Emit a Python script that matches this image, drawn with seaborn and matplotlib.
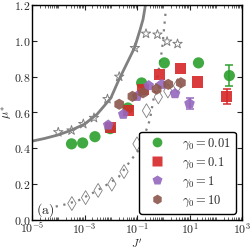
import numpy as np
import pandas as pd
import matplotlib
matplotlib.use("Agg")
import matplotlib.pyplot as plt
import seaborn as sns
from matplotlib.lines import Line2D
from matplotlib.ticker import LogLocator, FixedLocator, NullFormatter

sns.set_style("ticks")
plt.rcParams['font.family'] = ['DejaVu Serif']
plt.rcParams['mathtext.fontset'] = 'cm'

# ---- data ----
g001_x = [3.2e-4, 8.5e-4, 2.5e-3, 9.5e-3, 0.045, 0.15, 1.1, 22, 330]
g001_y = [0.425, 0.43, 0.465, 0.51, 0.625, 0.765, 0.877, 0.877, 0.806]
g01_x = [0.0100, 0.047, 0.17, 0.71, 4.7, 20, 260]
g01_y = [0.515, 0.61, 0.73, 0.81, 0.845, 0.77, 0.69]
g1_x = [0.008, 0.030, 0.10, 0.28, 0.87, 2.8, 10]
g1_y = [0.53, 0.59, 0.69, 0.75, 0.757, 0.705, 0.65]
g10_x = [0.021, 0.067, 0.17, 0.56, 1.55, 4.7]
g10_y = [0.646, 0.69, 0.71, 0.73, 0.757, 0.766]

# error bars (last points)
err_g001 = 0.06
err_g01 = 0.04
err_g1 = 0.03

star_x = [1e-4, 3.2e-4, 9e-4, 2.3e-3, 7.5e-3, 0.021, 0.083, 0.22, 0.6, 1.4, 3.5]
star_y = [0.49, 0.50, 0.536, 0.57, 0.675, 0.80, 0.96, 1.04, 1.035, 0.996, 0.983]
diam_x = [3.3e-4, 1.1e-3, 3.3e-3, 0.011, 0.032, 0.10, 0.23, 0.65, 1.5, 3.5]
diam_y = [0.092, 0.125, 0.165, 0.20, 0.27, 0.425, 0.61, 0.687, 0.72, 0.75]

solid_x = [1e-5, 3e-5, 1e-4, 3e-4, 1e-3, 3e-3, 1e-2, 2e-2, 4e-2, 8e-2, 0.13, 0.17, 0.21]
solid_y = [0.44, 0.455, 0.475, 0.50, 0.535, 0.59, 0.68, 0.78, 0.87, 0.96, 1.06, 1.12, 1.2]
dot_x = [8e-5, 2e-4, 6e-4, 2e-3, 6e-3, 0.02, 0.05, 0.13, 0.31, 0.57, 0.9, 1.25]
dot_y = [0.075, 0.088, 0.11, 0.15, 0.19, 0.24, 0.32, 0.40, 0.56, 0.78, 0.95, 1.17]

labels = [r'$\gamma_0 = 0.01$', r'$\gamma_0 = 0.1$', r'$\gamma_0 = 1$', r'$\gamma_0 = 10$']
colors = ['#2ca02c', '#d62728', '#9467bd', '#8c564b']
markers = ['o', 's', 'p', 'h']

fig = plt.figure(figsize=(2.5, 2.5), dpi=100)
ax = fig.add_axes([0.128, 0.12, 0.84, 0.86])

gray = '#808080'
sns.lineplot(x=solid_x, y=solid_y, ax=ax, color=gray, lw=2.0, sort=False, zorder=2)
sns.lineplot(x=dot_x, y=dot_y, ax=ax, color=gray, lw=1.6, sort=False, zorder=2,
             dashes=False, linestyle=(0, (1, 2.5)))
sns.scatterplot(x=star_x, y=star_y, ax=ax, marker='*', s=50, facecolor='none',
                edgecolor=gray, linewidth=0.7, zorder=3)
sns.scatterplot(x=diam_x, y=diam_y, ax=ax, marker='d', s=50, facecolor='none',
                edgecolor=gray, linewidth=0.6, zorder=3)

sets = [(g001_x, g001_y), (g01_x, g01_y), (g1_x, g1_y), (g10_x, g10_y)]
errs = [err_g001, err_g01, err_g1, None]
for (xs, ys), c, m, e in zip(sets, colors, markers, errs):
    sns.scatterplot(x=xs, y=ys, ax=ax, marker=m, s=65, color=c, edgecolor='none',
                    alpha=0.9, zorder=4)
    if e is not None:
        ax.errorbar([xs[-1]], [ys[-1]], yerr=[e], fmt='none', ecolor=c, elinewidth=1.2,
                    capsize=3, capthick=1.2, alpha=0.9, zorder=4)

ax.set_xscale('log')
ax.set_xlim(1e-5, 1e3)
ax.set_ylim(0, 1.2)
ax.xaxis.set_major_locator(FixedLocator([1e-5, 1e-3, 1e-1, 1e1, 1e3]))
ax.set_xticklabels([r'$10^{-5}$', r'$10^{-3}$', r'$10^{-1}$', r'$10^{1}$', r'$10^{3}$'])
ax.xaxis.set_minor_locator(LogLocator(base=10, subs=np.arange(1, 10), numticks=30))
ax.xaxis.set_minor_formatter(NullFormatter())
yt = [0.0, 0.2, 0.4, 0.6, 0.8, 1.0, 1.2]
ax.set_yticks(yt)
ax.set_yticklabels([r'$%.1f$' % v for v in yt])
ax.tick_params(which='both', direction='in', top=True, right=True, labelsize=8.5, pad=1.2)
ax.tick_params(which='major', length=3.5, width=0.8)
ax.tick_params(which='minor', length=2, width=0.5)
for sp in ax.spines.values():
    sp.set_linewidth(1.0)
    sp.set_color('black')

ax.set_xlabel(r"$J'$", fontsize=8)
ax.xaxis.set_label_coords(0.5, -0.085)
ax.xaxis.label.set_va('top')
ax.set_ylabel(r"$\mu^{*}$", fontsize=8.5)
ax.yaxis.set_label_coords(-0.085, 0.5)
ax.text(0.02, 0.03, r'$\mathrm{(a)}$', transform=ax.transAxes, fontsize=10, zorder=5)

handles = [Line2D([], [], marker=m, color=c, linestyle='none', markersize=7, alpha=0.9,
                  markeredgecolor='none') for c, m in zip(colors, markers)]
leg = ax.legend(handles, labels, loc='lower right', fontsize=9, frameon=True,
                fancybox=True, framealpha=1, edgecolor='black', borderpad=0.4,
                labelspacing=0.3, handletextpad=1.0, borderaxespad=0.5)
leg.get_frame().set_linewidth(1.0)

fig.savefig('out.png', dpi=100)
